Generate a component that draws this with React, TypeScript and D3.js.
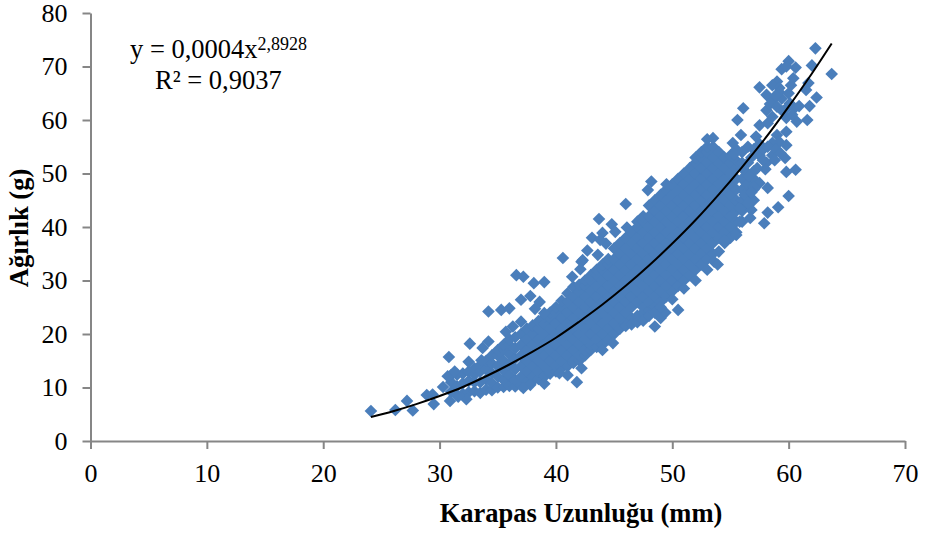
import { useEffect, useRef } from "react";
import * as d3 from "d3";

const width = 925;
const height = 537;
const margin = { top: 13, right: 20, bottom: 96, left: 90.5 };

const xTicks = [0, 10, 20, 30, 40, 50, 60, 70];
const yTicks = [0, 10, 20, 30, 40, 50, 60, 70, 80];

// scattered points around the main cloud
const looseLengths = [
  24.1, 26.2, 27.2, 27.7, 28.9, 29.4, 29.5, 30.9, 30.3, 30.8, 32.6, 32.5, 30.7, 31.3, 34.2, 35.3, 36, 34.2, 33.7, 33.6,
  36.6, 37.2, 40.6, 38.1, 39, 37, 37.8, 38.6, 38.2, 37, 36.3, 35.7, 39, 42.2, 39, 37.8, 37.2, 41.8, 41, 40.3, 42.2, 32.3,
  31.6, 48.2, 47.9, 46, 43.7, 44.8, 45.1, 46.1, 43.1, 44, 44.3, 43.8, 42.7, 43.6, 42.3, 42.1, 41.4, 50.5, 62.3, 63.7, 62,
  60, 59.4, 60.6, 59.8, 57.5, 59, 58.6, 59.2, 60.4, 60.2, 61.7, 61.5, 58.1, 58.6, 59.4, 60.1, 62.4, 61.8, 60.5, 59.8,
  58.1, 56.1, 55.6, 58.6, 57.5, 58.2, 59.8, 60.7, 61.6, 59.8, 59, 59.2, 59.8, 58.6, 57.2, 55.9, 55.2, 53.5, 53, 59.7,
  58.1, 58.6, 57.5, 60.6, 59.8, 60, 59.1, 58.2, 57.9, 56.8, 56.7, 57.5, 58.2, 55.8, 55.5, 54.5, 53.6, 53.9, 44.9, 48.5,
  49, 49.4, 49.5,
  // upper right clusters
  56.5, 57, 57.5, 56.8, 57.8, 58.2, 58.9, 59.3, 58.8, 58, 57.3, 57.8, 56.6, 57, 55.5, 56, 55.3, 56.2, 56.5, 55.8, 56.8,
  58.4, 59, 59.5, 60.3, 60.9, 59.2, 58.9, 60,
  // lower edge of the cloud
  46, 46.5, 47, 47.5, 44, 48, 48.5, 51, 52, 53, 50, 49,
];
const looseWeights = [
  5.6, 5.8, 7.5, 5.7, 8.6, 8.7, 6.9, 7.5, 10.1, 15.7, 18.2, 14.8, 12.1, 13, 24.2, 24.5, 24.8, 18.6, 17.4, 15.1, 31, 30.7,
  34.2, 29.5, 29.7, 26.4, 27.1, 26, 24.7, 22.3, 21.4, 20.4, 23.9, 33.5, 10.7, 10.5, 9.9, 11, 12.3, 12.7, 13.6, 7.8, 8.3,
  48.5, 46.9, 44.3, 41.5, 40.5, 39.1, 39.9, 38, 38.9, 36.9, 37.6, 35.6, 34.8, 33.8, 32.1, 30.7, 24.5, 73.4, 68.6, 70.2,
  71, 69.5, 69.8, 70, 66.1, 67.2, 66.5, 66, 67.8, 66.5, 66.9, 65.6, 64.7, 63.7, 64, 63.1, 64.2, 62.6, 62.2, 62.2, 61.8,
  62.2, 60, 60.6, 59, 59.4, 60.4, 59.7, 60, 57.8, 57.2, 55.9, 55.3, 55.7, 56.9, 57.2, 55.7, 56.6, 56.4, 52.9, 52, 53.4,
  53.4, 50.7, 50.3, 45.8, 43.7, 42.7, 40.7, 43.2, 41.7, 48.2, 47.3, 41, 38.5, 37.5, 33.5, 33, 18.3, 21.4, 23, 24, 48,
  55, 54.5, 55.5, 53, 54.5, 55, 54.5, 53.8, 52.5, 50.8, 51, 52.5, 49.5, 47.5, 54.5, 54, 53.6, 46, 44.5, 43.5, 46.5,
  63, 62.5, 61.6, 61, 62.6, 65.2, 64.6, 65,
  21.5, 21.8, 22.2, 22.5, 17, 23.4, 24, 28.5, 30, 32, 26.5, 25,
];

// the solid part of the cloud, weights listed per length
const denseLengths = [
  31, 31.5, 32, 32.5, 33, 33.5, 34, 34.5, 35, 35.5, 36, 36.5, 37, 37.5, 38, 38.5, 39, 39.5, 40, 40.5, 41, 41.5, 42, 42.5,
  43, 43.5, 44, 44.5, 45, 45.5, 46, 46.5, 47, 47.5, 48, 48.5, 49, 49.5, 50, 50.5, 51, 51.5, 52, 52.5, 53, 53.5, 54, 54.5,
  55, 55.5, 56, 56.5, 57,
];
const denseWeights = [
  [9.2, 11, 12.3],
  [8.6, 10.2, 12.4],
  [8.8, 10.8, 12.6],
  [9.1, 11.2, 13],
  [9.3, 11, 12.4, 13.6],
  [9, 11, 13, 14.2],
  [9.6, 11.5, 13.4, 15],
  [9.5, 10.8, 12.7, 14.5, 16],
  [10, 12, 14, 16, 17],
  [10.1, 11.4, 13.2, 15, 17, 18],
  [10.3, 12.3, 14.3, 16.2, 18, 19],
  [10.2, 11.4, 13.4, 15.4, 17.3, 19.4],
  [10.4, 12, 14, 16, 18, 20],
  [11, 13, 15, 17, 19, 21],
  [11.2, 12, 14, 16, 18, 20, 21.6],
  [11.6, 13, 15, 17, 19, 21, 22.4],
  [12, 14, 16, 18, 20, 22, 23.2],
  [12.6, 13, 15, 17, 19, 21, 23, 24],
  [13, 14, 16, 18, 20, 22, 24, 25],
  [13.6, 15, 17, 19, 21, 23, 25, 26.2],
  [14, 16, 18, 20, 22, 24, 26, 27.6],
  [14.6, 15, 17, 19, 21, 23, 25, 27, 28.8],
  [15, 16, 18, 20, 22, 24, 26, 28, 29.2],
  [16, 17, 19, 21, 23, 25, 27, 29, 30],
  [17, 18, 20, 22, 24, 26, 28, 30, 31],
  [17.6, 19, 21, 23, 25, 27, 29, 31, 32],
  [18, 20, 22, 24, 26, 28, 30, 32, 33],
  [19, 21, 23, 25, 27, 29, 31, 33, 34],
  [20, 22, 24, 26, 28, 30, 32, 34, 36],
  [21, 23, 25, 27, 29, 31, 33, 35, 37],
  [22, 24, 26, 28, 30, 32, 34, 36, 38],
  [23, 25, 27, 29, 31, 33, 35, 37, 39],
  [23.4, 26, 28, 30, 32, 34, 36, 38, 40, 41],
  [24, 25, 27, 29, 31, 33, 35, 37, 39, 41, 42],
  [24.4, 26, 28, 30, 32, 34, 36, 38, 40, 42, 44],
  [25, 27, 29, 31, 33, 35, 37, 39, 41, 43, 45],
  [26, 28, 30, 32, 34, 36, 38, 40, 42, 44, 46],
  [27, 29, 31, 33, 35, 37, 39, 41, 43, 45, 47],
  [28, 30, 32, 34, 36, 38, 40, 42, 44, 46, 48],
  [29, 31, 33, 35, 37, 39, 41, 43, 45, 47, 49],
  [30, 32, 34, 36, 38, 40, 42, 44, 46, 48, 50],
  [31, 33, 35, 37, 39, 41, 43, 45, 47, 49, 51],
  [32, 34, 36, 38, 40, 42, 44, 46, 48, 50, 52, 53],
  [33, 35, 37, 39, 41, 43, 45, 47, 49, 51, 53, 54],
  [34, 36, 38, 40, 42, 44, 46, 48, 50, 52, 54, 55],
  [35, 37, 39, 41, 43, 45, 47, 49, 51, 53, 55],
  [35.4, 38, 40, 42, 44, 46, 48, 50, 52, 54],
  [37, 39, 41, 43, 45, 47, 49, 51, 53],
  [38, 40, 42, 44, 46, 48, 50, 52, 53.4],
  [39, 41, 43, 45, 47, 49, 51, 52.4],
  [41, 43, 45, 47, 49, 51, 52],
  [44, 46, 48, 50, 52],
  [45, 47, 49, 50.4],
];

// trend line
const trendLengths = [24.1, 26, 28, 30, 32, 34, 36, 38, 40, 42, 44, 46, 48, 50, 52, 54, 56, 58, 60, 62, 63.7];
const trendWeights = [4.47, 5.56, 6.89, 8.41, 10.1, 12.1, 14.3, 16.7, 19.3, 22.3, 25.5, 29, 32.8, 36.9, 41.3, 46.1, 51.2, 56.6, 62.5, 68.7, 74.3];

const serif = "'Liberation Serif', 'Times New Roman', serif";

export default function App() {
  const ref = useRef<SVGSVGElement | null>(null);

  useEffect(() => {
    const svg = d3.select(ref.current);
    svg.selectAll("*").remove();

    const x = d3.scaleLinear().domain([0, 70]).range([margin.left, width - margin.right]);
    const y = d3.scaleLinear().domain([0, 80]).range([height - margin.bottom, margin.top]);

    const points: [number, number][] = [];
    denseLengths.forEach((len, i) => denseWeights[i].forEach((w) => points.push([len, w])));
    looseLengths.forEach((len, i) => points.push([len, looseWeights[i]]));

    const diamond = d3.symbol().type(d3.symbolSquare).size(80);
    svg
      .append("g")
      .selectAll("path")
      .data(points)
      .enter()
      .append("path")
      .attr("d", diamond() as string)
      .attr("transform", (d) => `translate(${x(d[0])},${y(d[1])}) rotate(45)`)
      .attr("fill", "#4a7ebb");

    const line = d3
      .line<number>()
      .x((d) => x(d))
      .y((_, i) => y(trendWeights[i]))
      .curve(d3.curveCatmullRom);
    svg
      .append("path")
      .attr("d", line(trendLengths) as string)
      .attr("fill", "none")
      .attr("stroke", "#000")
      .attr("stroke-width", 2);

    const xAxis = svg
      .append("g")
      .attr("transform", `translate(0,${height - margin.bottom})`)
      .call(d3.axisBottom(x).tickValues(xTicks).tickSize(8).tickPadding(14.5).tickSizeOuter(0));
    const yAxis = svg
      .append("g")
      .attr("transform", `translate(${margin.left},0)`)
      .call(d3.axisLeft(y).tickValues(yTicks).tickSize(8).tickPadding(15).tickSizeOuter(0));

    [xAxis, yAxis].forEach((axis) => {
      axis.selectAll("path, line").attr("stroke", "#868686").attr("stroke-width", 2);
      axis.selectAll("text").attr("fill", "#000").style("font-family", serif).style("font-size", "26px");
    });

    const equation = svg.append("text").attr("x", 130).attr("y", 58).style("font-family", serif).style("font-size", "26.5px");
    equation.append("tspan").text("y = 0,0004x");
    equation.append("tspan").attr("dy", -8).style("font-size", "18px").text("2,8928");

    svg.append("text").attr("x", 155).attr("y", 89).style("font-family", serif).style("font-size", "26.5px").text("R² = 0,9037");

    svg
      .append("text")
      .attr("x", 581)
      .attr("y", 522)
      .attr("text-anchor", "middle")
      .style("font-family", serif)
      .style("font-size", "26.5px")
      .style("font-weight", "bold")
      .text("Karapas Uzunluğu (mm)");

    svg
      .append("text")
      .attr("transform", "translate(28,228) rotate(-90)")
      .attr("text-anchor", "middle")
      .style("font-family", serif)
      .style("font-size", "26.5px")
      .style("font-weight", "bold")
      .text("Ağırlık (g)");
  }, []);

  return <svg ref={ref} width={width} height={height} style={{ position: "absolute", left: 0, top: 0, background: "#fff" }} />;
}
